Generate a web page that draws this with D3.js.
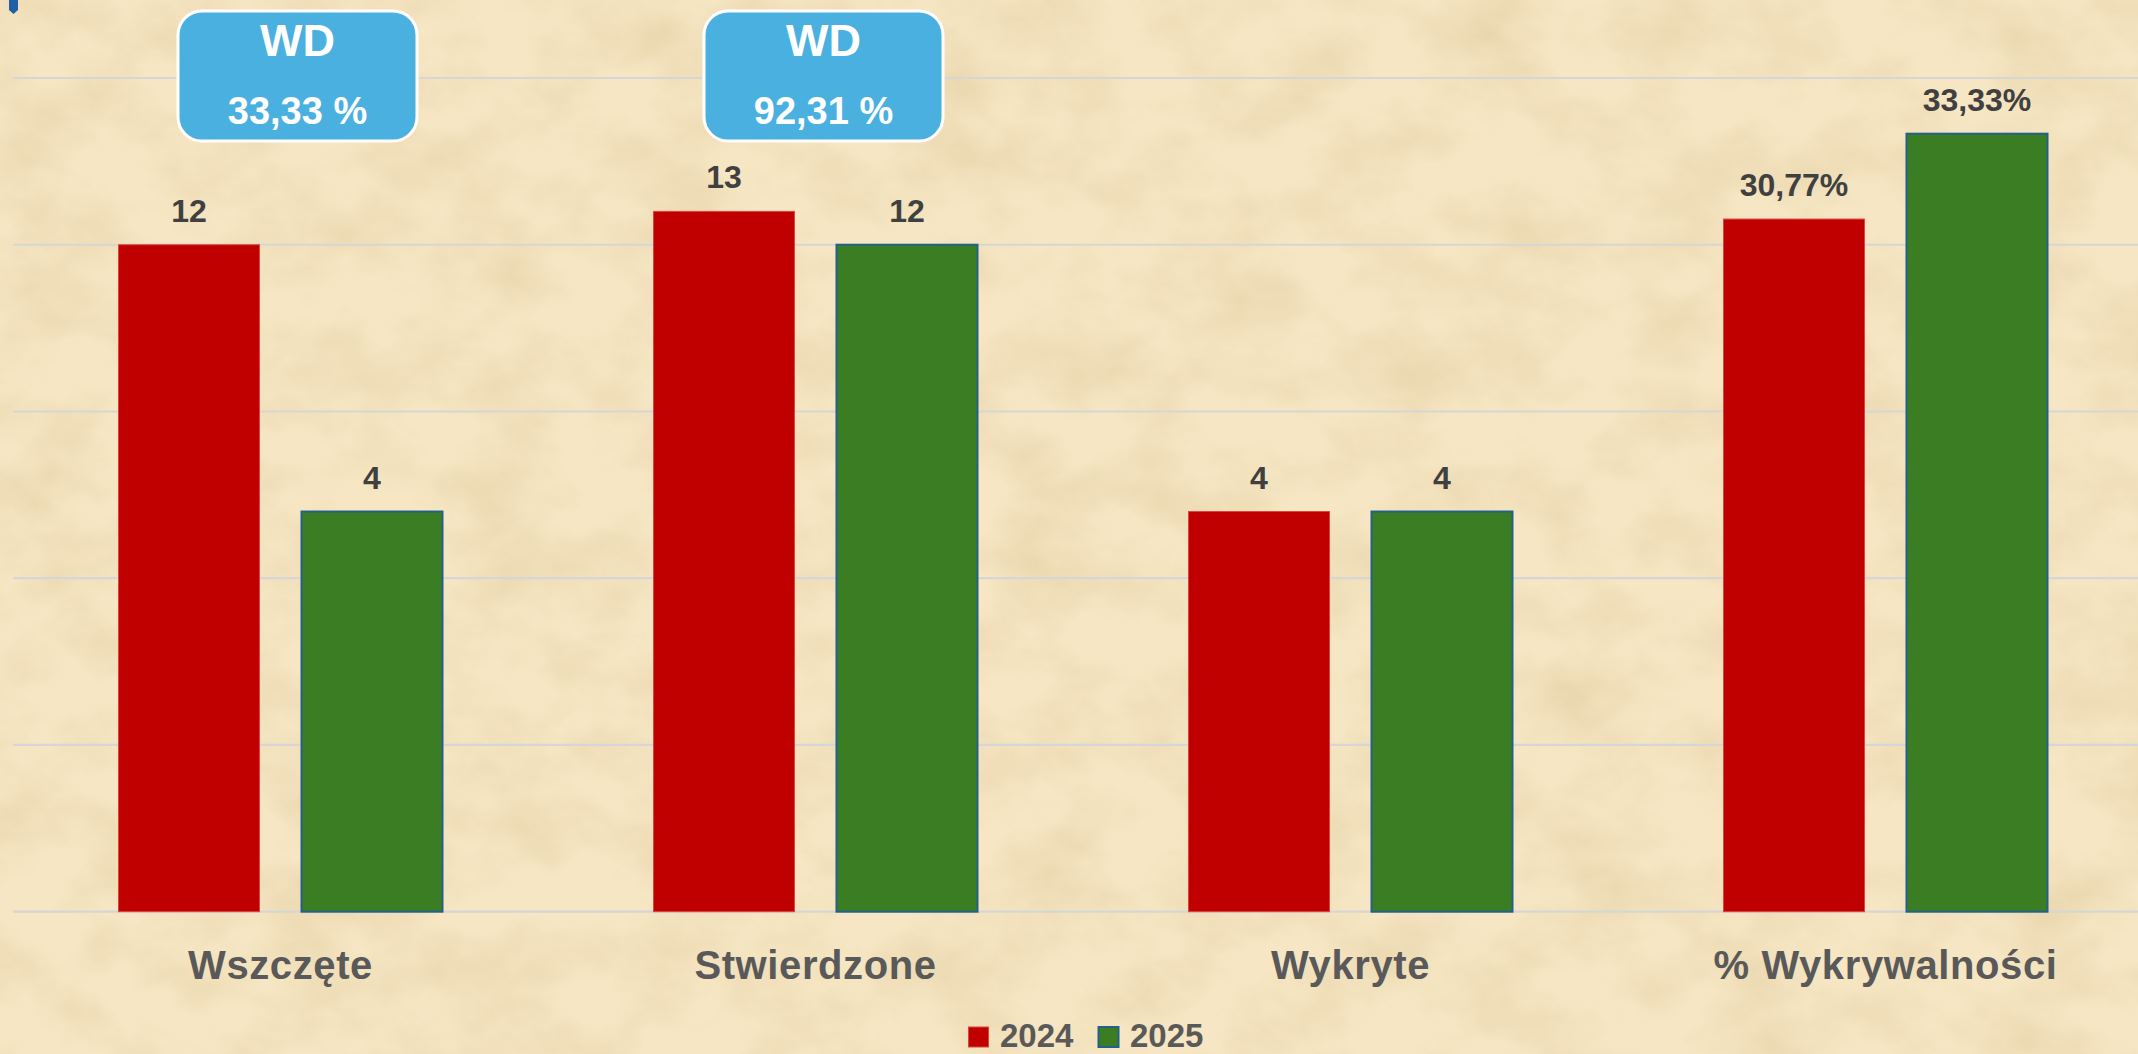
<!DOCTYPE html>
<html>
<head>
<meta charset="utf-8">
<script src="https://cdn.jsdelivr.net/npm/d3@7"></script>
<style>
	html, body { margin: 0; padding: 0; background: #efdcb5; overflow: hidden; }
	svg { display: block; font-family: "Liberation Sans", Arial, sans-serif; }
</style>
</head>
<body>
<svg id="main"></svg>
<script>
// data
var categories = ['Wszczęte', 'Stwierdzone', 'Wykryte', '% Wykrywalności'];
var series = ['2024', '2025'];
var values2024 = [12, 13, 4, 30.77];
var values2025 = [4, 12, 4, 33.33];
var isPercent = [false, false, false, true];
var countTicks = [-8, -3, 2, 7, 12, 17];
var wdLabels = ['WD', 'WD'];
var wdValues = ['33,33 %', '92,31 %'];
var wdCategories = ['Wszczęte', 'Stwierdzone'];

var width = 2138, height = 1054;
var colors = {'2024': '#c00000', '2025': '#3a7d23'};
var strokes = {'2024': '#d9473f', '2025': '#22628a'};

var fmt = v => String(v).replace('.', ',');

var svg = d3.select('#main').attr('width', width).attr('height', height);
var defs = svg.append('defs');

// parchment texture
var paper = defs.append('filter').attr('id', 'paper')
	.attr('x', 0).attr('y', 0).attr('width', '100%').attr('height', '100%');
paper.append('feTurbulence')
	.attr('type', 'fractalNoise')
	.attr('baseFrequency', '0.011 0.015')
	.attr('numOctaves', 5)
	.attr('seed', 7);
paper.append('feColorMatrix')
	.attr('type', 'matrix')
	.attr('values', '0 0 0 0 0.70  0 0 0 0 0.55  0 0 0 0 0.30  0.8 0 0 0 -0.3');

svg.append('rect').attr('width', width).attr('height', height).attr('fill', '#f6e6c3');
svg.append('rect').attr('width', width).attr('height', height).attr('filter', 'url(#paper)');

// scales
var plotTop = 78, plotBottom = 911.7;
var y = d3.scaleLinear().domain([-8, 17]).range([plotBottom, plotTop]);
var yPct = d3.scaleLinear().domain([10, 35]).range([plotBottom, plotTop]);
var x0 = d3.scaleBand().domain(categories).range([13, 2153]).paddingInner(0.3944).paddingOuter(0.1972);
var x1 = d3.scaleBand().domain(series).range([0, x0.bandwidth()]).paddingInner(0.2295);

// gridlines
svg.append('g').selectAll('line')
	.data(countTicks)
	.join('line')
	.attr('x1', 13).attr('x2', width)
	.attr('y1', d => y(d)).attr('y2', d => y(d))
	.attr('stroke', '#d6d6d6')
	.attr('stroke-width', 2.2);

// bars
var rows = categories.map((c, i) => ({
	cat: c,
	pct: isPercent[i],
	vals: [{s: '2024', v: values2024[i]}, {s: '2025', v: values2025[i]}]
}));

var groups = svg.append('g').selectAll('g')
	.data(rows)
	.join('g')
	.attr('transform', d => `translate(${x0(d.cat)},0)`);

groups.selectAll('rect')
	.data(d => d.vals.map(e => Object.assign({pct: d.pct}, e)))
	.join('rect')
	.attr('x', d => x1(d.s))
	.attr('width', x1.bandwidth())
	.attr('y', d => (d.pct ? yPct : y)(d.v))
	.attr('height', d => plotBottom - (d.pct ? yPct : y)(d.v))
	.attr('fill', d => colors[d.s])
	.attr('stroke', d => strokes[d.s])
	.attr('stroke-width', d => d.s === '2025' ? 2 : 1);

groups.selectAll('text')
	.data(d => d.vals.map(e => Object.assign({pct: d.pct}, e)))
	.join('text')
	.attr('x', d => x1(d.s) + x1.bandwidth() / 2)
	.attr('y', d => (d.pct ? yPct : y)(d.v) - 23)
	.attr('text-anchor', 'middle')
	.attr('font-size', 32)
	.attr('font-weight', 'bold')
	.attr('fill', '#404040')
	.text(d => d.pct ? fmt(d.v) + '%' : fmt(d.v));

// category labels
svg.append('g').selectAll('text')
	.data(categories)
	.join('text')
	.attr('x', d => x0(d) + x0.bandwidth() / 2)
	.attr('y', 979)
	.attr('text-anchor', 'middle')
	.attr('font-size', 40)
	.attr('font-weight', 'bold')
	.attr('letter-spacing', 0.6)
	.attr('fill', '#595959')
	.text(d => d);

// WD callouts
var wdOffsets = [17, 8];
var callouts = svg.append('g').selectAll('g')
	.data(wdCategories.map((c, i) => ({cat: c, label: wdLabels[i], value: wdValues[i], dx: wdOffsets[i]})))
	.join('g')
	.attr('transform', d => `translate(${x0(d.cat) + x0.bandwidth() / 2 + d.dx},0)`);
callouts.append('rect')
	.attr('x', -119.5).attr('y', 11)
	.attr('width', 239).attr('height', 130)
	.attr('rx', 24).attr('ry', 24)
	.attr('fill', '#49b0e0')
	.attr('stroke', '#ffffff')
	.attr('stroke-width', 3);
callouts.append('text')
	.attr('y', 56)
	.attr('text-anchor', 'middle')
	.attr('font-size', 45)
	.attr('font-weight', 'bold')
	.attr('fill', '#ffffff')
	.text(d => d.label);
callouts.append('text')
	.attr('y', 124)
	.attr('text-anchor', 'middle')
	.attr('font-size', 38)
	.attr('font-weight', 'bold')
	.attr('fill', '#ffffff')
	.text(d => d.value);

// small marker top-left
svg.append('path')
	.attr('d', 'M9,0 H18 V10 L13.5,14 L9,10 Z')
	.attr('fill', '#1f5fa8');

// legend
var legend = svg.append('g').selectAll('g')
	.data(series)
	.join('g')
	.attr('transform', (d, i) => `translate(${968 + i * 130},0)`);
legend.append('rect')
	.attr('x', 0.5).attr('y', 1027)
	.attr('width', 20).attr('height', 20)
	.attr('fill', d => colors[d])
	.attr('stroke', d => strokes[d])
	.attr('stroke-width', d => d === '2025' ? 2 : 1);
legend.append('text')
	.attr('x', 32).attr('y', 1047)
	.attr('font-size', 33)
	.attr('font-weight', 'bold')
	.attr('fill', '#595959')
	.text(d => d);
</script>
</body>
</html>
